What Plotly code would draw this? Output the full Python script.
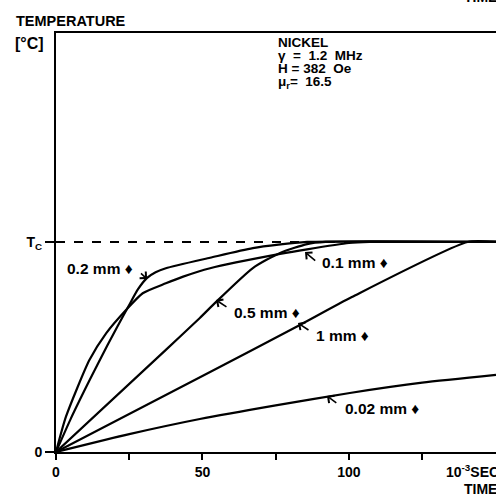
import plotly.graph_objects as go

# ---- data (time in 10^-3 s, temperature relative to Tc) ----
t_002 = [0, 25, 49.1, 75, 100.3, 125, 150.2]
T_002 = [0, 0.085, 0.157, 0.222, 0.281, 0.330, 0.367]

t_1 = [0, 52.6, 82.6, 101, 140.5, 150.2]
T_1 = [0, 0.381, 0.600, 0.738, 1.0, 1.0]

t_05 = [0, 37.5, 49.1, 54.3, 67.2, 76.5, 85.7, 92, 150.2]
T_05 = [0, 0.486, 0.638, 0.710, 0.876, 0.948, 0.990, 1.0, 1.0]

t_01 = [0, 3.4, 11.4, 17.1, 23.9, 29.6, 37.5, 43.4, 52.6, 76.5, 85.7, 100, 107, 150.2]
T_01 = [0, 0.168, 0.438, 0.565, 0.676, 0.756, 0.803, 0.835, 0.875, 0.943, 0.965, 0.995, 1.0, 1.0]

t_02 = [0, 5.1, 11.4, 17.6, 24.6, 28, 31, 34, 37.5, 52.6, 67.2, 85.7, 150.2]
T_02 = [0, 0.160, 0.340, 0.510, 0.690, 0.775, 0.828, 0.856, 0.875, 0.925, 0.971, 1.0, 1.0]

x_tickvals = [0, 25, 50, 75, 100, 125]
x_ticktext = ["0", "", "50", "", "100", ""]
y_tickvals = [0, 1]
y_ticktext = ["0", "T<sub>C</sub>"]

X_MAX = 150.2
Y_MAX = 1.995

FONT = "Liberation Sans"

fig = go.Figure()
series = [(t_002, T_002), (t_1, T_1), (t_05, T_05), (t_01, T_01), (t_02, T_02)]
for tx, ty in series:
    fig.add_trace(go.Scatter(x=tx, y=ty, mode="lines",
                             line=dict(color="black", width=2.2, shape="spline", smoothing=0.6),
                             showlegend=False, hoverinfo="skip"))

fig.add_shape(type="line", xref="x", yref="y", x0=0, x1=X_MAX, y0=1, y1=1,
              line=dict(color="black", width=2, dash="dash"))

def ann(text, x, y, size=15, xanchor="left", xref="x", yref="y"):
    fig.add_annotation(text=text, x=x, y=y, xref=xref, yref=yref, showarrow=False,
                       xanchor=xanchor, yanchor="middle",
                       font=dict(family=FONT, size=size, color="black", weight="bold"))

def arrow(x, y, ax, ay):
    fig.add_annotation(text="", x=x, y=y, ax=ax, ay=ay, xref="x", yref="y",
                       axref="x", ayref="y", showarrow=True, arrowhead=4,
                       arrowsize=1.1, arrowwidth=1.6, arrowcolor="black", standoff=0)

# curve labels
ann("0.2 mm ♦", 3.0, 0.876, size=15.5)
arrow(31.1, 0.824, 28.5, 0.857)
ann("0.1 mm ♦", 90.1, 0.90, size=15.5)
arrow(85.0, 0.952, 89.0, 0.905)
ann("0.5 mm ♦", 60.1, 0.662, size=15.5)
arrow(54.6, 0.724, 58.7, 0.686)
ann("1 mm ♦", 88.1, 0.557, size=15.5)
arrow(82.6, 0.614, 86.7, 0.576)
ann("0.02 mm ♦", 98.0, 0.205, size=15.5)
arrow(92.5, 0.267, 96.2, 0.229)

# info block
info = ["NICKEL", "γ  =  1.2  MHz", "H = 382  Oe", "μ<sub>r</sub>=  16.5"]
info_y = [1.952, 1.887, 1.825, 1.758]
for txt, yy in zip(info, info_y):
    ann(txt, 75.0, yy, size=13.5)

# screen pixel -> paper coords (plot area spans screen x 56..496, y 33..452)
def pp(px, py):
    return (px - 56) / 440.0, (452 - py) / 419.0

x0, y0 = pp(14, 21)
ann("TEMPERATURE", x0, y0, size=14.5, xref="paper", yref="paper")
x0, y0 = pp(13, 43)
ann("[°C]", x0, y0, size=16, xref="paper", yref="paper")
x0, y0 = pp(444, 471)
ann("10<sup>-3</sup>SEC", x0, y0, size=14, xref="paper", yref="paper")
x0, y0 = pp(462, 489)
ann("TIME", x0, y0, size=14, xref="paper", yref="paper")
x0, y0 = pp(462, -3)
ann("TIME", x0, y0, size=14, xref="paper", yref="paper")

fig.update_xaxes(range=[0, X_MAX], tickvals=x_tickvals, ticktext=x_ticktext,
                 showline=True, linecolor="black", linewidth=2, mirror=True,
                 ticks="outside", ticklen=6, tickwidth=1.5, tickcolor="black",
                 showgrid=False, zeroline=False,
                 tickfont=dict(family=FONT, size=14, color="black", weight="bold"))
fig.update_yaxes(range=[0, Y_MAX], tickvals=y_tickvals, ticktext=y_ticktext,
                 showline=True, linecolor="black", linewidth=2, mirror=False,
                 ticks="outside", ticklen=9, tickwidth=1.5, tickcolor="black",
                 showgrid=False, zeroline=False,
                 tickfont=dict(family=FONT, size=14, color="black", weight="bold"))

fig.update_layout(width=496, height=495,
                  margin=dict(l=56, r=0, t=33, b=43),
                  paper_bgcolor="white", plot_bgcolor="white",
                  font=dict(family=FONT, color="black"))

# remove the default page margin so the figure fills the window exactly
fig.write_html("out.html", config={"displayModeBar": False},
               post_script="document.body.style.margin='0';document.body.style.overflow='hidden';")
